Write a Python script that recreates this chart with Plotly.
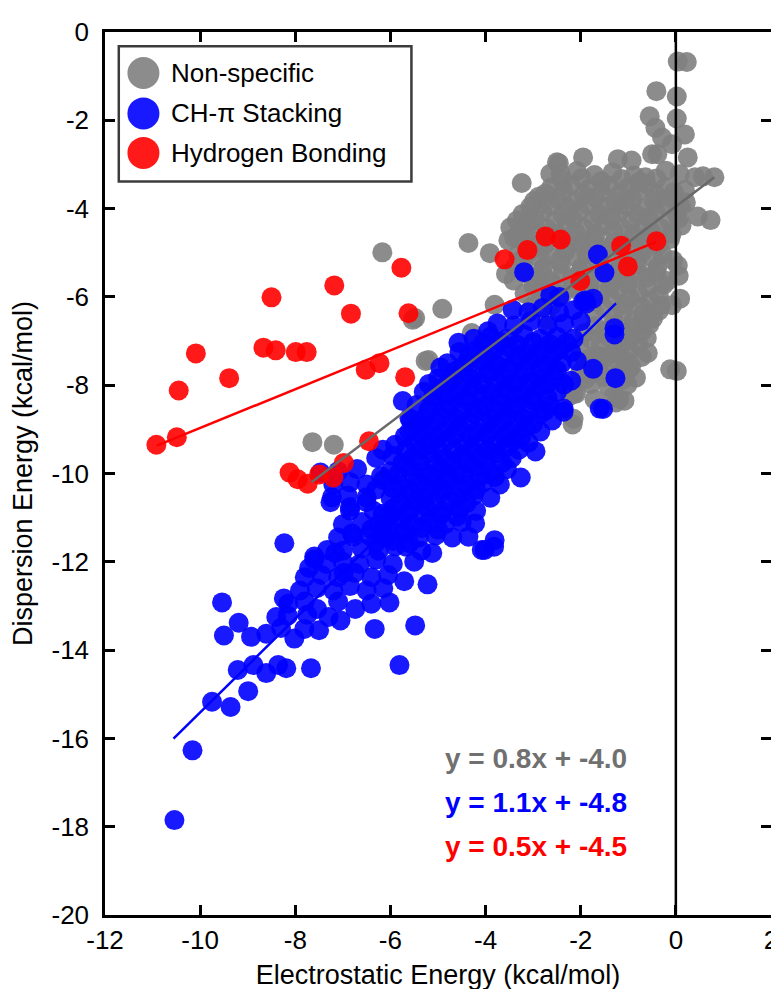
import plotly.graph_objects as go

# ---------------- data ----------------
gray_points = [
    (0.04, -0.67), (0.23, -0.68), (-0.41, -1.34), (0.02, -1.46), (-0.55, -1.91), (0.02, -1.96),
    (-0.43, -2.17), (-0.29, -2.39), (0.19, -2.32), (-0.39, -2.77), (-0.08, -2.54), (0.25, -2.84),
    (0.57, -3.27), (0.81, -3.29), (0.40, -3.29), (0.19, -3.58), (0.46, -4.18), (0.73, -4.26),
    (0.06, -4.22), (-0.22, -3.51), (0.06, -5.52), (0.09, -6.04), (-0.08, -6.19), (-0.36, -5.96),
    (-0.70, -6.56), (-1.05, -7.53), (-0.84, -7.83), (0.02, -7.68), (-0.12, -7.64), (-1.08, -8.35),
    (-1.26, -8.39), (-2.15, -8.20), (-2.15, -8.76), (-2.17, -8.89), (-1.67, -7.32), (-1.95, -2.84),
    (-1.22, -2.88), (-0.93, -2.91), (-2.46, -2.97), (-2.50, -2.95), (-0.64, -3.29), (-0.50, -2.77),
    (-3.24, -3.42), (-2.64, -3.21), (-2.88, -3.73), (-4.36, -4.78), (-3.91, -5.01), (-3.08, -4.26),
    (-3.40, -4.66), (-4.91, -6.27), (-5.48, -6.48), (-5.53, -6.52), (-5.26, -7.45), (-5.20, -7.43),
    (-4.29, -6.82), (-3.81, -6.18), (-3.57, -5.48), (-6.17, -4.99), (-5.27, -9.21), (-7.64, -9.29),
    (-7.19, -9.35), (-2.10, -8.19), (-0.98, -7.63), (-1.12, -7.04), (-1.60, -7.34), (-1.81, -7.40),
    (-2.22, -8.23), (-1.19, -8.31),
    (-2.42, -3.22), (-2.08, -3.15), (-1.71, -3.24), (-1.33, -3.18), (-0.88, -3.25), (-0.21, -3.14), (0.08, -3.22),
    (-2.62, -3.52), (-2.21, -3.47), (-1.83, -3.55), (-1.41, -3.48), (-1.02, -3.53), (-0.61, -3.46),
    (-2.98, -3.83), (-2.49, -3.78), (-2.12, -3.84), (-1.69, -3.76), (-1.28, -3.85), (-0.91, -3.79),
    (-0.47, -3.82), (-0.11, -3.76), (0.21, -3.86),
    (-3.22, -4.12), (-2.81, -4.07), (-2.38, -4.14), (-2.02, -4.06), (-1.61, -4.13), (-1.19, -4.08),
    (-0.79, -4.15), (-0.42, -4.07), (0.01, -4.11),
    (-3.48, -4.43), (-3.12, -4.38), (-2.71, -4.45), (-2.29, -4.36), (-1.92, -4.44), (-1.49, -4.37),
    (-1.11, -4.46), (-0.68, -4.39), (-0.31, -4.45), (0.12, -4.38),
    (-3.52, -4.72), (-3.28, -4.68), (-2.91, -4.75), (-2.48, -4.67), (-2.11, -4.74), (-1.72, -4.69),
    (-1.29, -4.76), (-0.88, -4.67), (-0.52, -4.73), (-0.12, -4.69),
    (-3.31, -5.03), (-3.08, -4.98), (-2.69, -5.05), (-2.32, -4.97), (-1.88, -5.04), (-1.52, -4.96),
    (-1.09, -5.06), (-0.71, -4.99), (-0.28, -5.04),
    (-3.38, -5.32), (-3.21, -5.27), (-2.79, -5.34), (-2.41, -5.26), (-1.98, -5.33), (-1.61, -5.28),
    (-1.18, -5.35), (-0.81, -5.27), (-0.39, -5.33), (0.04, -5.29),
    (-3.41, -5.63), (-2.98, -5.57), (-2.62, -5.64), (-2.19, -5.58), (-1.81, -5.65), (-1.38, -5.59),
    (-1.02, -5.62), (-0.61, -5.56), (-0.18, -5.64),
    (-3.18, -5.92), (-2.81, -5.87), (-2.38, -5.94), (-2.02, -5.88), (-1.58, -5.93), (-1.21, -5.86),
    (-0.79, -5.92),
    (-3.02, -6.22), (-2.61, -6.18), (-1.52, -6.24), (-1.09, -6.17), (-0.72, -6.23), (-0.31, -6.19),
    (-2.71, -6.52), (-1.32, -6.47), (-0.89, -6.54), (-0.48, -6.49),
    (-1.92, -6.82), (-1.49, -6.77), (-1.08, -6.84), (-0.71, -6.78),
    (-2.02, -7.12), (-1.58, -7.08), (-1.21, -7.14), (-0.79, -7.07),
    (-1.91, -7.43), (-1.48, -7.38), (-1.09, -7.42), (-0.72, -7.36),
    (-2.01, -7.72), (-1.62, -7.68), (-1.21, -7.74),
    (-2.19, -8.02), (-1.79, -7.97), (-1.41, -8.04), (-1.02, -7.99),
    (-1.71, -8.32), (-1.32, -8.27),
    (-2.38, -3.37), (-1.98, -3.31), (-1.57, -3.38), (-1.14, -3.33), (-0.76, -3.39), (-0.41, -3.32),
    (-2.74, -3.66), (-2.36, -3.62), (-1.94, -3.68), (-1.56, -3.63), (-1.18, -3.67), (-0.79, -3.61),
    (-0.42, -3.68), (-0.04, -3.63),
    (-3.06, -3.96), (-2.64, -3.93), (-2.26, -3.98), (-1.84, -3.92), (-1.46, -3.97), (-1.04, -3.94),
    (-0.66, -3.99), (-0.24, -3.92), (0.11, -3.97),
    (-3.34, -4.27), (-2.96, -4.22), (-2.54, -4.28), (-2.16, -4.23), (-1.74, -4.27), (-1.36, -4.21),
    (-0.94, -4.28), (-0.56, -4.22), (-0.14, -4.27),
    (-3.29, -4.56), (-2.91, -4.52), (-2.49, -4.58), (-2.11, -4.53), (-1.69, -4.57), (-1.31, -4.51),
    (-0.89, -4.58), (-0.51, -4.53), (-0.09, -4.57),
    (-3.14, -4.86), (-2.76, -4.82), (-2.34, -4.88), (-1.96, -4.83), (-1.54, -4.87), (-1.16, -4.81),
    (-0.74, -4.88), (-0.36, -4.83),
    (-3.24, -5.16), (-2.86, -5.12), (-2.44, -5.18), (-2.06, -5.13), (-1.64, -5.17), (-1.26, -5.11),
    (-0.84, -5.18), (-0.46, -5.13), (-0.06, -5.17),
    (-3.19, -5.46), (-2.81, -5.42), (-2.39, -5.48), (-2.01, -5.43), (-1.59, -5.47), (-1.21, -5.41),
    (-0.79, -5.48), (-0.41, -5.43),
    (-2.99, -5.76), (-2.61, -5.72), (-2.19, -5.78), (-1.81, -5.73), (-1.39, -5.77), (-1.01, -5.71),
    (-0.59, -5.78), (-0.26, -5.73),
    (-2.84, -6.06), (-2.46, -6.02), (-1.34, -6.07), (-0.96, -6.03), (-0.54, -6.08),
    (-1.71, -6.36), (-1.11, -6.33), (-0.69, -6.38), (-0.36, -6.32),
    (-1.69, -6.66), (-1.29, -6.62), (-0.91, -6.68), (-0.56, -6.63),
    (-1.79, -6.96), (-1.41, -6.92), (-0.99, -6.98), (-0.61, -6.93),
    (-1.29, -7.26), (-0.96, -7.22), (-0.59, -7.27),
    (-1.74, -7.56), (-1.36, -7.52), (-0.94, -7.57),
    (-1.89, -7.86), (-1.51, -7.82), (-1.11, -7.87),
]

blue_points = [
    (-10.54, -17.85), (-10.16, -16.27), (-9.75, -15.17), (-9.36, -15.29), (-8.99, -14.93), (-9.21, -14.45),
    (-8.88, -14.34), (-8.61, -14.52), (-8.36, -14.34), (-8.19, -14.41), (-7.67, -14.41), (-9.54, -12.92),
    (-9.19, -13.38), (-9.50, -13.67), (-8.93, -13.70), (-8.61, -13.63), (-8.24, -12.83), (-8.16, -13.22),
    (-8.02, -13.74), (-7.81, -13.52), (-7.54, -13.07), (-7.50, -13.55), (-7.05, -13.33), (-6.74, -13.07),
    (-6.33, -13.52), (-5.81, -14.34), (-5.48, -13.44), (-8.23, -11.58), (-7.71, -12.14), (-7.60, -11.95),
    (-7.16, -11.80), (-6.81, -11.36), (-6.98, -12.25), (-6.02, -12.92), (-5.71, -12.44), (-5.22, -12.51),
    (-4.08, -11.73), (-3.82, -11.66), (-7.26, -10.65), (-6.85, -10.84), (-6.50, -10.65), (-6.16, -10.91),
    (-1.95, -6.11), (-1.29, -6.85), (-1.27, -7.84), (-1.53, -8.54), (-1.74, -7.63), (-2.08, -7.45),
    (-2.36, -8.53), (-3.43, -6.29), (-4.57, -7.04), (-4.95, -7.60), (-5.19, -7.97), (-5.57, -8.79),
    (-3.26, -10.09), (-2.95, -9.50), (-3.81, -11.51), (-4.22, -11.13), (-5.74, -8.36), (-5.60, -8.75),
    (-7.47, -9.98), (-7.23, -10.54), (-6.85, -10.76), (-6.50, -10.54), (-6.16, -9.46), (-5.67, -9.46),
    (-3.95, -6.78), (-2.64, -5.96), (-3.19, -5.44), (-1.88, -6.15), (-1.60, -8.53), (-2.36, -8.60),
    (-4.02, -11.73), (-4.36, -11.43), (-5.12, -11.80), (-5.67, -11.66), (-6.16, -11.28), (-6.78, -11.43),
    (-7.33, -11.73), (-7.60, -11.88), (-1.64, -5.04), (-1.50, -5.45), (-1.91, -6.08), (-1.74, -6.04),
    (-1.29, -6.71),
    (-2.45, -6.00),
    (-3.10, -6.35), (-2.80, -6.25), (-2.45, -6.35), (-2.15, -6.30),
    (-3.75, -6.60), (-3.40, -6.65), (-3.05, -6.55), (-2.70, -6.65), (-2.35, -6.60), (-2.00, -6.55),
    (-4.25, -6.95), (-3.90, -6.90), (-3.55, -6.95), (-3.20, -6.85), (-2.85, -6.95), (-2.50, -6.90), (-2.15, -6.95),
    (-4.55, -7.25), (-4.20, -7.20), (-3.85, -7.25), (-3.50, -7.15), (-3.15, -7.25), (-2.80, -7.20),
    (-2.45, -7.20), (-2.20, -7.25),
    (-4.80, -7.50), (-4.45, -7.55), (-4.10, -7.45), (-3.75, -7.55), (-3.40, -7.50), (-3.05, -7.45),
    (-2.70, -7.55), (-2.40, -7.50),
    (-5.00, -7.85), (-4.65, -7.80), (-4.30, -7.85), (-3.95, -7.75), (-3.60, -7.85), (-3.25, -7.80),
    (-2.90, -7.85), (-2.55, -7.80), (-2.20, -7.90),
    (-5.30, -8.15), (-4.95, -8.10), (-4.60, -8.15), (-4.25, -8.05), (-3.90, -8.15), (-3.55, -8.10),
    (-3.20, -8.15), (-2.85, -8.05), (-2.50, -8.15),
    (-5.45, -8.45), (-5.10, -8.40), (-4.75, -8.45), (-4.40, -8.35), (-4.05, -8.45), (-3.70, -8.40),
    (-3.35, -8.45), (-3.00, -8.35), (-2.65, -8.45),
    (-5.30, -8.75), (-4.95, -8.70), (-4.60, -8.75), (-4.25, -8.65), (-3.90, -8.75), (-3.55, -8.70),
    (-3.20, -8.75), (-2.85, -8.65), (-2.60, -8.80),
    (-5.60, -9.05), (-5.25, -9.00), (-4.90, -9.05), (-4.55, -8.95), (-4.20, -9.05), (-3.85, -9.00),
    (-3.50, -9.05), (-3.15, -8.95), (-2.85, -9.05),
    (-5.90, -9.35), (-5.50, -9.30), (-5.15, -9.35), (-4.80, -9.25), (-4.45, -9.35), (-4.10, -9.30),
    (-3.75, -9.35), (-3.40, -9.25), (-3.10, -9.30),
    (-6.30, -9.65), (-5.95, -9.60), (-5.55, -9.65), (-5.20, -9.55), (-4.85, -9.65), (-4.50, -9.60),
    (-4.15, -9.65), (-3.80, -9.55), (-3.45, -9.65),
    (-7.10, -9.95), (-6.70, -9.90), (-6.00, -9.95), (-5.65, -9.85), (-5.30, -9.95), (-4.95, -9.90),
    (-4.60, -9.95), (-4.25, -9.85), (-3.90, -9.95), (-3.55, -9.90),
    (-7.20, -10.25), (-6.85, -10.20), (-6.50, -10.25), (-6.15, -10.15), (-5.80, -10.25), (-5.45, -10.20),
    (-5.10, -10.25), (-4.75, -10.15), (-4.40, -10.25), (-4.05, -10.20), (-3.70, -10.25),
    (-6.90, -10.50), (-6.00, -10.55), (-5.65, -10.50), (-5.30, -10.55), (-4.95, -10.45), (-4.60, -10.55),
    (-4.25, -10.50), (-3.90, -10.55),
    (-6.35, -10.85), (-5.95, -10.80), (-5.60, -10.85), (-5.25, -10.75), (-4.90, -10.85), (-4.55, -10.80),
    (-4.20, -10.85),
    (-7.00, -11.15), (-6.60, -11.10), (-6.25, -11.15), (-5.90, -11.05), (-5.55, -11.15), (-5.20, -11.10),
    (-4.85, -11.15), (-4.50, -11.10),
    (-7.10, -11.45), (-6.45, -11.40), (-6.10, -11.45), (-5.75, -11.35), (-5.40, -11.45), (-5.05, -11.40),
    (-4.70, -11.45),
    (-7.00, -11.75), (-6.60, -11.70), (-6.25, -11.75), (-5.90, -11.65), (-5.35, -11.75),
    (-7.35, -12.05), (-7.00, -12.00), (-6.65, -12.05), (-6.30, -11.95), (-5.95, -12.05), (-5.50, -12.00),
    (-7.80, -12.35), (-7.45, -12.30), (-7.10, -12.35), (-6.75, -12.25), (-6.40, -12.35), (-6.05, -12.30),
    (-7.90, -12.65), (-7.55, -12.60), (-7.20, -12.65), (-6.85, -12.55), (-6.50, -12.65), (-6.15, -12.60),
    (-8.15, -12.95), (-7.80, -12.90), (-7.10, -12.90), (-6.40, -12.95),
    (-8.40, -13.25), (-7.75, -13.20), (-7.30, -13.25),
    (-8.30, -13.50),
    # denser core
    (-4.05, -7.05), (-3.70, -7.02), (-3.35, -7.08), (-3.00, -7.03), (-2.65, -7.07), (-2.30, -7.04),
    (-4.35, -7.36), (-4.00, -7.33), (-3.65, -7.38), (-3.30, -7.34), (-2.95, -7.37), (-2.60, -7.32),
    (-4.60, -7.66), (-4.25, -7.63), (-3.90, -7.68), (-3.55, -7.64), (-3.20, -7.67), (-2.85, -7.62), (-2.50, -7.66),
    (-4.80, -7.96), (-4.45, -7.93), (-4.10, -7.98), (-3.75, -7.94), (-3.40, -7.97), (-3.05, -7.92),
    (-2.70, -7.96), (-2.35, -7.98),
    (-5.10, -8.26), (-4.75, -8.23), (-4.40, -8.28), (-4.05, -8.24), (-3.70, -8.27), (-3.35, -8.22),
    (-3.00, -8.26), (-2.70, -8.28),
    (-5.20, -8.56), (-4.85, -8.53), (-4.50, -8.58), (-4.15, -8.54), (-3.80, -8.57), (-3.45, -8.52),
    (-3.10, -8.56), (-2.75, -8.58),
    (-5.40, -8.86), (-5.05, -8.83), (-4.70, -8.88), (-4.35, -8.84), (-4.00, -8.87), (-3.65, -8.82),
    (-3.30, -8.86), (-3.00, -8.88),
    (-5.70, -9.16), (-5.35, -9.13), (-5.00, -9.18), (-4.65, -9.14), (-4.30, -9.17), (-3.95, -9.12),
    (-3.60, -9.16), (-3.25, -9.18),
    (-5.35, -9.46), (-5.00, -9.43), (-4.65, -9.48), (-4.30, -9.44), (-3.95, -9.47), (-3.60, -9.42), (-3.30, -9.46),
    (-5.75, -9.76), (-5.40, -9.73), (-5.05, -9.78), (-4.70, -9.74), (-4.35, -9.77), (-4.00, -9.72), (-3.65, -9.76),
    (-6.20, -10.06), (-5.85, -10.03), (-5.50, -10.08), (-5.15, -10.04), (-4.80, -10.07), (-4.45, -10.02),
    (-4.10, -10.06), (-3.80, -10.08),
    (-6.30, -10.36), (-5.95, -10.33), (-5.60, -10.38), (-5.25, -10.34), (-4.90, -10.37), (-4.55, -10.32),
    (-4.20, -10.36),
    (-5.80, -10.66), (-5.45, -10.63), (-5.10, -10.68), (-4.75, -10.64), (-4.40, -10.67),
    (-6.00, -10.96), (-5.65, -10.93), (-5.30, -10.98), (-4.95, -10.94), (-4.60, -10.97),
    (-6.40, -11.26), (-6.05, -11.23), (-5.70, -11.28), (-5.35, -11.24), (-5.00, -11.27),
    (-6.30, -11.56), (-5.95, -11.53), (-5.60, -11.58),
]

red_points = [
    (-10.92, -9.35), (-10.49, -9.18), (-10.45, -8.12), (-10.09, -7.28), (-9.39, -7.84), (-8.50, -6.01),
    (-8.67, -7.15), (-8.41, -7.21), (-7.99, -7.25), (-7.76, -7.25), (-7.18, -5.74), (-6.83, -6.38),
    (-6.52, -7.65), (-6.23, -7.50), (-5.77, -5.34), (-5.62, -6.37), (-5.69, -7.82), (-8.12, -9.98),
    (-7.95, -10.13), (-7.74, -10.23), (-7.50, -10.02), (-7.20, -10.09), (-6.98, -9.76), (-6.45, -9.27),
    (-2.01, -5.64), (-3.60, -5.15), (-3.12, -4.94), (-2.74, -4.63), (-2.42, -4.70), (-1.15, -4.84),
    (-1.01, -5.31), (-0.41, -4.74),
]

# linear fits: slope, intercept, x-extent of the drawn line
fit_names = ["Non-specific", "CH-π Stacking", "Hydrogen Bonding"]
fit_slopes = [0.816, 1.06, 0.44]
fit_intercepts = [-3.95, -4.81, -4.57]
fit_x_start = [-7.66, -10.56, -10.91]
fit_x_end = [0.81, -1.26, -0.41]
fit_labels = ["y = 0.8x + -4.0", "y = 1.1x + -4.8", "y = 0.5x + -4.5"]

x_ticks = [-12, -10, -8, -6, -4, -2, 0, 2]
x_tick_labels = ["-12", "-10", "-8", "-6", "-4", "-2", "0", "2"]
y_ticks = [-20, -18, -16, -14, -12, -10, -8, -6, -4, -2, 0]
y_tick_labels = ["-20", "-18", "-16", "-14", "-12", "-10", "-8", "-6", "-4", "-2", "0"]

# ---------------- styling ----------------
FONT = "Liberation Sans, Arial, Helvetica, sans-serif"
point_colors = ["rgb(128,128,128)", "rgb(0,0,255)", "rgb(255,0,0)"]
line_colors = ["rgb(105,105,105)", "rgb(0,0,255)", "rgb(255,0,0)"]
label_colors = ["rgb(112,112,112)", "rgb(0,0,255)", "rgb(255,0,0)"]

fig = go.Figure()

for pts, col, name in zip([gray_points, blue_points, red_points], point_colors, fit_names):
    fig.add_trace(go.Scatter(
        x=[p[0] for p in pts], y=[p[1] for p in pts], mode="markers", name=name,
        marker=dict(size=20, color=col, opacity=0.9, line=dict(width=0)),
        showlegend=False,
    ))

for m, b, x0, x1, col in zip(fit_slopes, fit_intercepts, fit_x_start, fit_x_end, line_colors):
    fig.add_trace(go.Scatter(
        x=[x0, x1], y=[m * x0 + b, m * x1 + b], mode="lines",
        line=dict(color=col, width=2.5), showlegend=False,
    ))

# vertical zero line
fig.add_shape(type="line", xref="x", yref="paper", x0=0, x1=0, y0=0, y1=1,
              line=dict(color="black", width=2.5))

# equation labels
label_y = [-16.45, -17.46, -18.44]
for txt, col, yy in zip(fit_labels, label_colors, label_y):
    fig.add_annotation(x=-4.90, y=yy, xref="x", yref="y", text=txt, showarrow=False,
                       xanchor="left", yanchor="middle",
                       font=dict(family=FONT, size=28, color=col, weight="bold"))

# custom legend (large circular symbols)
fig.add_shape(type="rect", xref="paper", yref="paper", x0=0.0207, x1=0.4601, y0=0.8307, y1=0.9838,
              line=dict(color="rgb(60,60,60)", width=2.5), fillcolor="white", layer="above")
legend_rows = [0.9536, 0.9078, 0.8631]
for name, col, yy in zip(fit_names, point_colors, legend_rows):
    fig.add_shape(type="circle", xref="paper", yref="paper", xsizemode="pixel", ysizemode="pixel",
                  xanchor=0.0577, yanchor=yy, x0=-16, x1=16, y0=-16, y1=16,
                  fillcolor=col, opacity=0.9, line=dict(width=0), layer="above")
    fig.add_annotation(x=0.0962, y=yy, xref="paper", yref="paper", text=name, showarrow=False,
                       xanchor="left", yanchor="middle", font=dict(family=FONT, size=26, color="black"))

axis_common = dict(showline=True, linecolor="black", linewidth=2.5, mirror="ticks",
                   ticks="inside", ticklen=10, tickwidth=2.5, tickcolor="black",
                   showgrid=False, zeroline=False, ticklabeloverflow="allow",
                   tickfont=dict(family=FONT, size=26, color="black"))

fig.update_xaxes(range=[-12, 2], tickvals=x_ticks, ticktext=x_tick_labels, ticklabelstandoff=0,
                 title=dict(text="Electrostatic Energy (kcal/mol)", font=dict(family=FONT, size=27, color="black"),
                            standoff=12),
                 **axis_common)
fig.update_yaxes(range=[-20, 0], tickvals=y_ticks, ticktext=y_tick_labels, ticklabelstandoff=8,
                 title=dict(text="Dispersion Energy (kcal/mol)", font=dict(family=FONT, size=27, color="black"),
                            standoff=16),
                 **axis_common)

fig.update_layout(width=779, height=989, margin=dict(l=94, r=9, t=11, b=82),
                  paper_bgcolor="white", plot_bgcolor="white", showlegend=False)

fig.write_html("out.html")
